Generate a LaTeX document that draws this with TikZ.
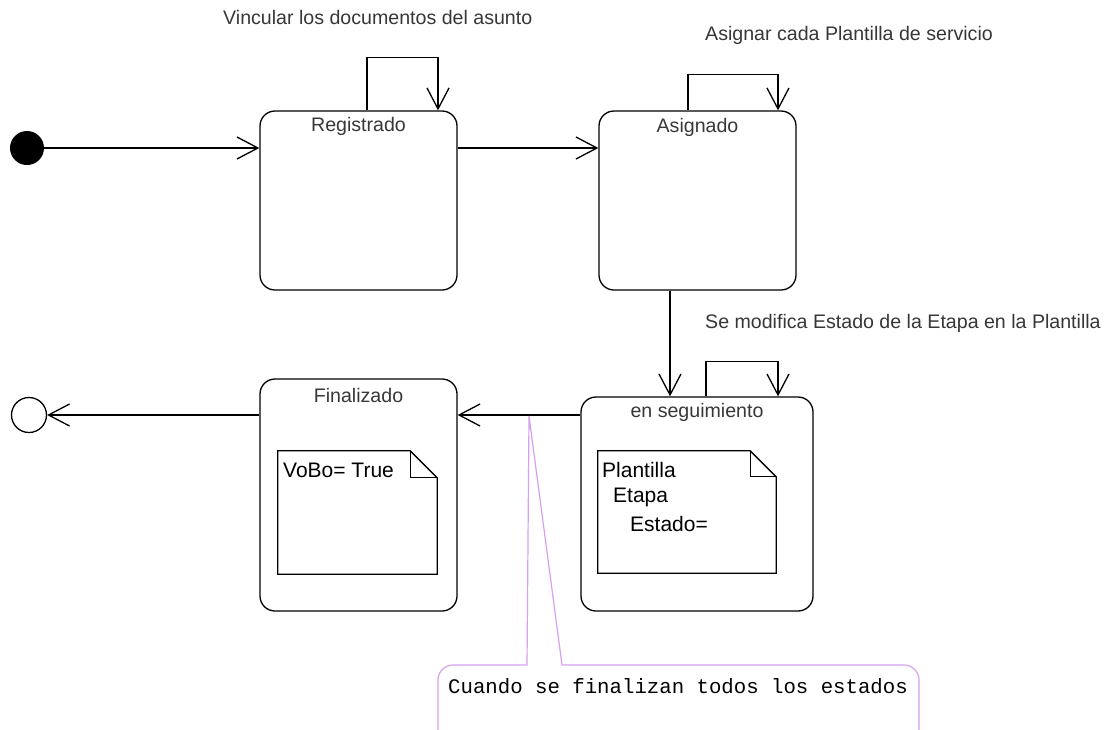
\documentclass[tikz,border=0pt]{standalone}
\usepackage{fontspec}
\setmainfont{Liberation Sans}
\setmonofont{Liberation Mono}
\usetikzlibrary{arrows.meta,calc}
\definecolor{lav}{RGB}{214,160,240}
\definecolor{txt}{RGB}{55,55,55}
\tikzset{
  statebox/.style={draw=black, line width=1.3pt, rounded corners=15pt, inner sep=0pt},
  arr/.style={line width=1.3pt, -{Straight Barb[length=21pt,width=22pt,line width=1.3pt]}},
  conn/.style={line width=1.3pt},
  lbl/.style={font=\fontsize{19.6}{22}\selectfont, text=txt, inner sep=0pt},
  notetxt/.style={font=\fontsize{21}{24}\selectfont, text=black, inner sep=0pt, anchor=west},
  notebox/.style={inner sep=0pt},
  noteline/.style={line width=1.3pt},
  callout/.style={draw=lav, line width=1.2pt},
}
\begin{document}
\begin{tikzpicture}[x=1pt,y=-1pt]
\path[use as bounding box] (0,0) rectangle (1107,729);
\clip (0,0) rectangle (1107,729);

% initial and final states
\node[circle, fill=black, minimum size=34pt, inner sep=0pt] (init) at (27,148) {};
\node[circle, draw=black, line width=1.3pt, minimum size=35pt, inner sep=0pt] (final) at (29,415) {};

% states
\node[statebox, minimum width=197pt, minimum height=179pt] (reg) at (358.5,200.5) {};
\node[statebox, minimum width=197pt, minimum height=179pt] (asig) at (697.5,200.5) {};
\node[statebox, minimum width=197pt, minimum height=232pt] (fin) at (358.5,495) {};
\node[statebox, minimum width=232pt, minimum height=214pt] (seg) at (697,504) {};

% titles
\node[lbl] (regt) at (358.5,126) {Registrado};
\node[lbl] (asigt) at (697.5,127) {Asignado};
\node[lbl] (fint) at (358.5,395) {Finalizado};
\node[lbl] (segt) at (697,412) {en seguimiento};

% transition labels
\node[lbl, anchor=west] (l1) at (223,17) {Vincular los documentos del asunto};
\node[lbl, anchor=west] (l2) at (705,35) {Asignar cada Plantilla de servicio};
\node[lbl, anchor=west] (l3) at (705,323) {Se modifica Estado de la Etapa en la Plantilla};

% transitions
\draw[arr] (init.east) -- (init.east -| reg.west);
\draw[arr] (reg.east |- init.east) -- (asig.west |- init.east);
\draw[arr] ([xshift=8.5pt]reg.north) -- ++(0,-53) -| ([xshift=79.5pt]reg.north);
\draw[arr] ([xshift=-9.5pt]asig.north) -- ++(0,-36) -| ([xshift=80.5pt]asig.north);
\draw[arr] ([xshift=-27.5pt]asig.south) -- ([xshift=-27.5pt]asig.south |- seg.north);
\draw[arr] ([xshift=9pt]seg.north) -- ++(0,-35) -| ([xshift=81pt]seg.north);
\draw[arr] (seg.west |- final.east) -- (fin.east |- final.east);
\draw[arr] (fin.west |- final.east) -- (final.east);

% note in Finalizado
\node[notebox, minimum width=159pt, minimum height=123pt] (finnote) at (357.5,512.5) {};
\draw[noteline] (finnote.north west) -- ([xshift=-27pt]finnote.north east) -- ([yshift=-27pt]finnote.north east) -- (finnote.south east) -- (finnote.south west) -- cycle;
\draw[noteline] ([xshift=-27pt]finnote.north east) -- ([xshift=-27pt,yshift=-27pt]finnote.north east) -- ([yshift=-27pt]finnote.north east);
\node[notetxt] (vobo) at (283,470) {VoBo= True};

% note in en seguimiento
\node[notebox, minimum width=178pt, minimum height=122pt] (segnote) at (687,512) {};
\draw[noteline] (segnote.north west) -- ([xshift=-26pt]segnote.north east) -- ([yshift=-26pt]segnote.north east) -- (segnote.south east) -- (segnote.south west) -- cycle;
\draw[noteline] ([xshift=-26pt]segnote.north east) -- ([xshift=-26pt,yshift=-26pt]segnote.north east) -- ([yshift=-26pt]segnote.north east);
\node[notetxt] (np) at (602,470) {Plantilla};
\node[notetxt] (ne) at (613,497) {Etapa};
\node[notetxt] (ns) at (630,524) {Estado=};

% callout
\coordinate (cp) at (529,416);
\draw[callout] (438,760) -- (438,680) .. controls (438,671.7) and (444.7,665) .. (453,665) -- (527,665) -- (cp) -- (562,665) -- (904,665) .. controls (912.3,665) and (919,671.7) .. (919,680) -- (919,760);
\node[font=\fontsize{20.7}{24}\ttfamily, text=black, inner sep=0pt, anchor=west] (calltext) at (448,686) {Cuando se finalizan todos los estados};
\end{tikzpicture}
\end{document}
